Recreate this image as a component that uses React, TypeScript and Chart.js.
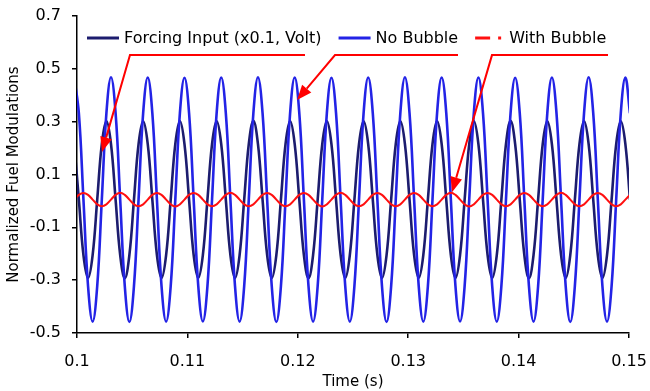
import React, { useEffect, useRef } from 'react';
import { Chart, registerables } from 'chart.js';

Chart.register(...registerables);

// Time samples (s)
const timeS = [
  0.099752, 0.100168, 0.100584, 0.101000, 0.101416, 0.101832, 0.102248, 0.102664,
  0.103080, 0.103496, 0.103912, 0.104328, 0.104744, 0.105160, 0.105576, 0.105992,
  0.106408, 0.106824, 0.107240, 0.107656, 0.108072, 0.108488, 0.108904, 0.109320,
  0.109736, 0.110152, 0.110568, 0.110984, 0.111400, 0.111816, 0.112232, 0.112648,
  0.113064, 0.113480, 0.113896, 0.114312, 0.114728, 0.115144, 0.115560, 0.115976,
  0.116392, 0.116808, 0.117224, 0.117640, 0.118056, 0.118472, 0.118888, 0.119304,
  0.119720, 0.120136, 0.120552, 0.120968, 0.121384, 0.121800, 0.122216, 0.122632,
  0.123048, 0.123464, 0.123880, 0.124296, 0.124712, 0.125128, 0.125544, 0.125960,
  0.126376, 0.126792, 0.127208, 0.127624, 0.128040, 0.128456, 0.128872, 0.129288,
  0.129704, 0.130120, 0.130536, 0.130952, 0.131368, 0.131784, 0.132200, 0.132616,
  0.133032, 0.133448, 0.133864, 0.134280, 0.134696, 0.135112, 0.135528, 0.135944,
  0.136360, 0.136776, 0.137192, 0.137608, 0.138024, 0.138440, 0.138856, 0.139272,
  0.139688, 0.140104, 0.140520, 0.140936, 0.141352, 0.141768, 0.142184, 0.142600,
  0.143016, 0.143432, 0.143848, 0.144264, 0.144680, 0.145096, 0.145512, 0.145928,
  0.146344, 0.146760, 0.147176, 0.147592, 0.148008, 0.148424, 0.148840, 0.149256,
  0.149672, 0.150088,
];

// Forcing input (x0.1, Volt)
const forcingInput = [
  0.215, 0.005, -0.205, -0.292, -0.205, 0.005, 0.215, 0.302,
  0.215, 0.005, -0.205, -0.293, -0.205, 0.005, 0.215, 0.301,
  0.215, 0.005, -0.205, -0.292, -0.205, 0.005, 0.215, 0.302,
  0.215, 0.005, -0.205, -0.291, -0.205, 0.005, 0.215, 0.302,
  0.215, 0.005, -0.205, -0.292, -0.205, 0.005, 0.215, 0.303,
  0.215, 0.005, -0.205, -0.292, -0.205, 0.005, 0.215, 0.302,
  0.215, 0.005, -0.205, -0.293, -0.205, 0.005, 0.215, 0.302,
  0.215, 0.005, -0.205, -0.292, -0.205, 0.005, 0.215, 0.301,
  0.215, 0.005, -0.205, -0.292, -0.205, 0.005, 0.215, 0.302,
  0.215, 0.005, -0.205, -0.291, -0.205, 0.005, 0.215, 0.302,
  0.215, 0.005, -0.205, -0.292, -0.205, 0.005, 0.215, 0.302,
  0.215, 0.005, -0.205, -0.292, -0.205, 0.005, 0.215, 0.303,
  0.215, 0.005, -0.205, -0.293, -0.205, 0.005, 0.215, 0.302,
  0.215, 0.005, -0.205, -0.292, -0.205, 0.005, 0.215, 0.302,
  0.215, 0.005, -0.205, -0.292, -0.205, 0.005, 0.215, 0.301,
  0.215, 0.005,
];

// No bubble
const noBubble = [
  0.467, 0.332, 0.005, -0.322, -0.457, -0.322, 0.005, 0.332,
  0.468, 0.332, 0.005, -0.322, -0.458, -0.322, 0.005, 0.332,
  0.467, 0.332, 0.005, -0.322, -0.457, -0.322, 0.005, 0.332,
  0.466, 0.332, 0.005, -0.322, -0.456, -0.322, 0.005, 0.332,
  0.467, 0.332, 0.005, -0.322, -0.457, -0.322, 0.005, 0.332,
  0.468, 0.332, 0.005, -0.322, -0.458, -0.322, 0.005, 0.332,
  0.467, 0.332, 0.005, -0.322, -0.457, -0.322, 0.005, 0.332,
  0.466, 0.332, 0.005, -0.322, -0.457, -0.322, 0.005, 0.332,
  0.467, 0.332, 0.005, -0.322, -0.458, -0.322, 0.005, 0.332,
  0.468, 0.332, 0.005, -0.322, -0.457, -0.322, 0.005, 0.332,
  0.467, 0.332, 0.005, -0.322, -0.456, -0.322, 0.005, 0.332,
  0.467, 0.332, 0.005, -0.322, -0.457, -0.322, 0.005, 0.332,
  0.466, 0.332, 0.005, -0.322, -0.457, -0.322, 0.005, 0.332,
  0.467, 0.332, 0.005, -0.322, -0.458, -0.322, 0.005, 0.332,
  0.468, 0.332, 0.005, -0.322, -0.457, -0.322, 0.005, 0.332,
  0.467, 0.332,
];

// With bubble
const withBubble = [
  0.005, 0.023, 0.030, 0.023, 0.005, -0.013, -0.020, -0.013,
  0.005, 0.023, 0.031, 0.023, 0.005, -0.013, -0.020, -0.013,
  0.005, 0.023, 0.030, 0.023, 0.005, -0.013, -0.021, -0.013,
  0.005, 0.023, 0.030, 0.023, 0.005, -0.013, -0.020, -0.013,
  0.005, 0.023, 0.031, 0.023, 0.005, -0.013, -0.020, -0.013,
  0.005, 0.023, 0.030, 0.023, 0.005, -0.013, -0.020, -0.013,
  0.005, 0.023, 0.030, 0.023, 0.005, -0.013, -0.021, -0.013,
  0.005, 0.023, 0.031, 0.023, 0.005, -0.013, -0.020, -0.013,
  0.005, 0.023, 0.030, 0.023, 0.005, -0.013, -0.020, -0.013,
  0.005, 0.023, 0.030, 0.023, 0.005, -0.013, -0.020, -0.013,
  0.005, 0.023, 0.031, 0.023, 0.005, -0.013, -0.021, -0.013,
  0.005, 0.023, 0.030, 0.023, 0.005, -0.013, -0.020, -0.013,
  0.005, 0.023, 0.030, 0.023, 0.005, -0.013, -0.020, -0.013,
  0.005, 0.023, 0.031, 0.023, 0.005, -0.013, -0.020, -0.013,
  0.005, 0.023, 0.030, 0.023, 0.005, -0.013, -0.020, -0.013,
  0.005, 0.023,
];

const seriesLabels = ['Forcing Input (x0.1, Volt)', 'No Bubble', 'With Bubble'];
const seriesColors = ['#1c1c6e', '#2323e6', '#ff1010'];

const xTicks = [0.1, 0.11, 0.12, 0.13, 0.14, 0.15];
const yTicks = [-0.5, -0.3, -0.1, 0.1, 0.3, 0.5, 0.7];

// Annotation arrows, in data units [time, value]; last point is the arrow tip
const arrowForcing = [[0.12065, 0.552], [0.10480, 0.552], [0.10226, 0.185]];
const arrowNoBubble = [[0.13451, 0.552], [0.12337, 0.552], [0.11993, 0.382]];
const arrowWithBubble = [[0.14810, 0.552], [0.13759, 0.552], [0.13397, 0.033]];

const FONT = '"DejaVu Sans", Verdana, sans-serif';

const arrowPlugin = {
  id: 'arrows',
  afterDatasetsDraw(chart: any) {
    const { ctx, scales } = chart;
    const xs = scales.x;
    const ys = scales.y;
    ctx.save();
    ctx.strokeStyle = '#ff0000';
    ctx.fillStyle = '#ff0000';
    ctx.lineWidth = 2;
    [arrowForcing, arrowNoBubble, arrowWithBubble].forEach((path) => {
      const pts = path.map(([t, v]) => [xs.getPixelForValue(t), ys.getPixelForValue(v)]);
      const tip = pts[pts.length - 1];
      const prev = pts[pts.length - 2];
      const dx = tip[0] - prev[0];
      const dy = tip[1] - prev[1];
      const len = Math.hypot(dx, dy);
      const ux = dx / len;
      const uy = dy / len;
      const headLen = 15;
      const headHalf = 6;
      const base = [tip[0] - ux * headLen, tip[1] - uy * headLen];
      ctx.beginPath();
      ctx.moveTo(pts[0][0], pts[0][1]);
      for (let i = 1; i < pts.length - 1; i++) ctx.lineTo(pts[i][0], pts[i][1]);
      ctx.lineTo(base[0], base[1]);
      ctx.stroke();
      ctx.beginPath();
      ctx.moveTo(tip[0], tip[1]);
      ctx.lineTo(base[0] - uy * headHalf, base[1] + ux * headHalf);
      ctx.lineTo(base[0] + uy * headHalf, base[1] - ux * headHalf);
      ctx.closePath();
      ctx.fill();
    });
    ctx.restore();
  },
};

const legendPlugin = {
  id: 'insideLegend',
  afterDraw(chart: any) {
    const { ctx, chartArea } = chart;
    const ds = chart.data.datasets;
    ctx.save();
    ctx.font = `16px ${FONT}`;
    ctx.textBaseline = 'middle';
    ctx.textAlign = 'left';
    const y = chartArea.top + 22;
    let x = chartArea.left + 10;
    ds.forEach((d: any, i: number) => {
      ctx.strokeStyle = d.borderColor;
      ctx.fillStyle = d.borderColor;
      ctx.lineWidth = 3;
      if (i === 2) {
        ctx.beginPath();
        ctx.moveTo(x, y);
        ctx.lineTo(x + 15, y);
        ctx.stroke();
        ctx.fillRect(x + 23, y - 1.5, 3, 3);
        x += 34;
      } else {
        ctx.beginPath();
        ctx.moveTo(x, y);
        ctx.lineTo(x + 32, y);
        ctx.stroke();
        x += 37;
      }
      ctx.fillStyle = '#000';
      ctx.fillText(d.label, x, y + 1);
      x += ctx.measureText(d.label).width + 17;
    });
    ctx.restore();
  },
};

export default function App() {
  const canvasRef = useRef<HTMLCanvasElement | null>(null);

  useEffect(() => {
    if (!canvasRef.current) return;
    Chart.defaults.font.family = FONT;
    Chart.defaults.color = '#000';
    const series = [forcingInput, noBubble, withBubble];
    const widths = [2.6, 2.6, 2];
    const orders = [2, 1, 0];
    const chart = new Chart(canvasRef.current, {
      type: 'line',
      data: {
        datasets: series.map((vals, i) => ({
          label: seriesLabels[i],
          data: timeS.map((t, k) => ({ x: t, y: vals[k] })),
          borderColor: seriesColors[i],
          backgroundColor: seriesColors[i],
          borderWidth: widths[i],
          pointRadius: 0,
          tension: 0.4,
          fill: false,
          order: orders[i],
        })),
      },
      options: {
        responsive: false,
        animation: false,
        devicePixelRatio: 1,
        layout: { padding: { top: 16, right: 21, bottom: 0, left: 0 } },
        plugins: {
          legend: { display: false },
          tooltip: { enabled: false },
        },
        scales: {
          x: {
            type: 'linear',
            min: 0.1,
            max: 0.15,
            afterBuildTicks: (scale: any) => {
              scale.ticks = xTicks.map((v) => ({ value: v }));
            },
            afterFit: (scale: any) => {
              scale.height = 58;
              scale.paddingLeft = 0;
              scale.paddingRight = 0;
            },
            ticks: {
              font: { size: 16 },
              padding: 14,
              maxRotation: 0,
              callback: (v: any) => String(parseFloat(Number(v).toFixed(2))),
            },
            grid: {
              display: true,
              drawOnChartArea: false,
              drawTicks: true,
              tickLength: 5,
              color: '#000',
              lineWidth: 1.5,
            },
            border: { display: true, color: '#000', width: 1.5 },
            title: {
              display: true,
              text: 'Time (s)',
              font: { size: 15 },
              padding: { top: 0, bottom: 0 },
            },
          },
          y: {
            type: 'linear',
            min: -0.5,
            max: 0.7,
            afterBuildTicks: (scale: any) => {
              scale.ticks = yTicks.map((v) => ({ value: v }));
            },
            afterFit: (scale: any) => {
              scale.width = 77;
              scale.paddingTop = 0;
              scale.paddingBottom = 0;
            },
            ticks: {
              font: { size: 16 },
              padding: 11,
              callback: (v: any) => Number(v).toFixed(1),
            },
            grid: {
              display: true,
              drawOnChartArea: false,
              drawTicks: true,
              tickLength: 5,
              color: '#000',
              lineWidth: 1.5,
            },
            border: { display: true, color: '#000', width: 1.5 },
            title: {
              display: true,
              text: 'Normalized Fuel Modulations',
              font: { size: 15 },
              padding: { top: 5, bottom: 0 },
            },
          },
        },
      },
      plugins: [arrowPlugin, legendPlugin],
    });
    return () => chart.destroy();
  }, []);

  return (
    <div style={{ position: 'fixed', left: 0, top: 0, width: 650, height: 391, background: '#fff' }}>
      <canvas ref={canvasRef} width={650} height={391} style={{ display: 'block' }} />
    </div>
  );
}
